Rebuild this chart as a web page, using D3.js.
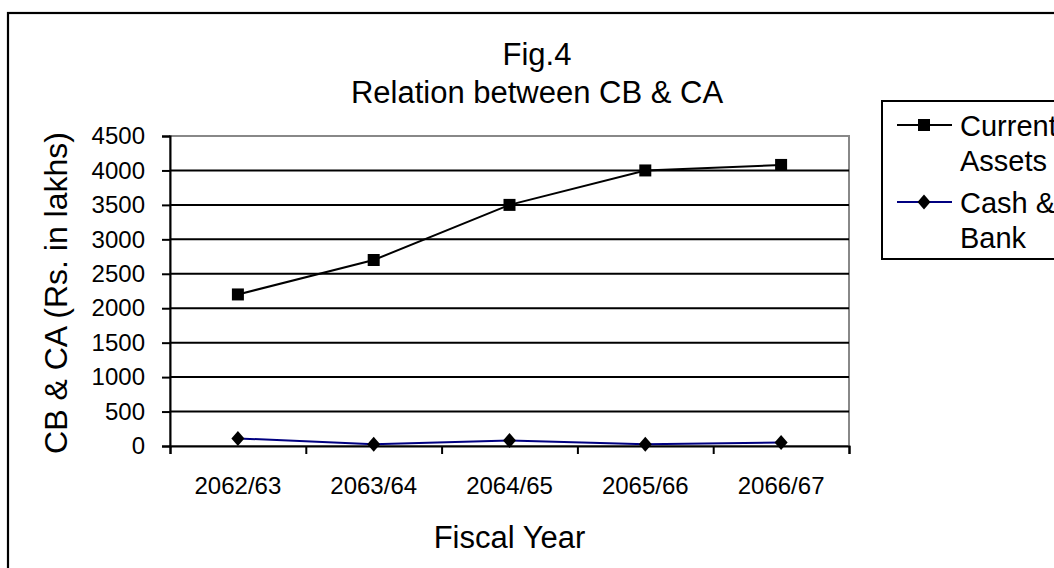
<!DOCTYPE html>
<html>
<head>
<meta charset="utf-8">
<script src="https://cdn.jsdelivr.net/npm/d3@7"></script>
<style>
  html, body { margin: 0; padding: 0; background: #fff; }
  svg { display: block; }
  text { font-family: "Liberation Sans", Arial, sans-serif; fill: #000; }
</style>
</head>
<body>
<svg id="chart" width="1054" height="568"></svg>
<script>
// Fiscal years on the horizontal axis
const categories = ["2062/63", "2063/64", "2064/65", "2065/66", "2066/67"];
// Rs. in lakhs
const currentAssets = [2200, 2700, 3500, 4000, 4080];
const cashBank = [110, 25, 80, 25, 50];
const yTicks = [0, 500, 1000, 1500, 2000, 2500, 3000, 3500, 4000, 4500];
const seriesNames = [["Current", "Assets"], ["Cash &", "Bank"]];

const svg = d3.select("#chart");
const W = 1054, H = 568;
const plot = { left: 170, right: 849, top: 136, bottom: 446 };
const FONT = "Liberation Sans, Arial, sans-serif";

// outer chart frame
svg.append("rect")
  .attr("x", 8).attr("y", 13)
  .attr("width", W + 20).attr("height", H + 20)
  .attr("fill", "#fff").attr("stroke", "#000").attr("stroke-width", 2.2);

const x = d3.scaleBand().domain(categories).range([plot.left, plot.right]);
const xEdge = d3.scaleLinear().domain([0, categories.length]).range([plot.left, plot.right]);
const y = d3.scaleLinear().domain([0, 4500]).range([plot.bottom, plot.top]);
const cx = d => x(d) + x.bandwidth() / 2;

// plot area border (grey)
svg.append("rect")
  .attr("x", plot.left).attr("y", plot.top)
  .attr("width", plot.right - plot.left).attr("height", plot.bottom - plot.top)
  .attr("fill", "#fff").attr("stroke", "#888").attr("stroke-width", 2);

// horizontal gridlines
svg.append("g")
  .selectAll("line")
  .data(yTicks.filter(v => v > 0 && v < 4500))
  .join("line")
  .attr("x1", plot.left).attr("x2", plot.right)
  .attr("y1", d => y(d)).attr("y2", d => y(d))
  .attr("stroke", "#000").attr("stroke-width", 2);

// y axis
const yAxis = svg.append("g")
  .attr("transform", `translate(${plot.left},0)`)
  .call(d3.axisLeft(y).tickValues(yTicks).tickSize(8).tickPadding(17).tickFormat(d3.format("d")));
yAxis.select(".domain").attr("stroke", "#000").attr("stroke-width", 2);
yAxis.selectAll(".tick line").attr("stroke", "#000").attr("stroke-width", 2);
yAxis.selectAll(".tick text")
  .attr("font-size", 24).attr("font-family", FONT).attr("fill", "#000");

// x axis: tick marks on category boundaries
const xTicks = svg.append("g")
  .attr("transform", `translate(0,${plot.bottom})`)
  .call(d3.axisBottom(xEdge).tickValues(d3.range(categories.length + 1)).tickSize(8).tickFormat(""));
xTicks.select(".domain").attr("stroke", "#000").attr("stroke-width", 2);
xTicks.selectAll(".tick line").attr("stroke", "#000").attr("stroke-width", 2);

// x category labels
const xLabels = svg.append("g")
  .attr("transform", `translate(0,${plot.bottom})`)
  .call(d3.axisBottom(x).tickSize(0).tickPadding(31));
xLabels.select(".domain").remove();
xLabels.selectAll(".tick text")
  .attr("font-size", 24).attr("font-family", FONT).attr("fill", "#000");

// series lines
const line = d3.line().x(d => cx(d.c)).y(d => y(d.v));
const caData = categories.map((c, i) => ({ c, v: currentAssets[i] }));
const cbData = categories.map((c, i) => ({ c, v: cashBank[i] }));

svg.append("path").datum(caData)
  .attr("d", line).attr("fill", "none").attr("stroke", "#000").attr("stroke-width", 2);
svg.append("path").datum(cbData)
  .attr("d", line).attr("fill", "none").attr("stroke", "#000080").attr("stroke-width", 2);

// markers: filled square and a near-square rhombus
const square = d3.symbol().type(d3.symbolSquare).size(144);
const rhombus = {
  draw(ctx) {
    ctx.moveTo(0, -7.5); ctx.lineTo(6.5, 0); ctx.lineTo(0, 7.5); ctx.lineTo(-6.5, 0); ctx.closePath();
  }
};
const diamond = d3.symbol().type(rhombus);

svg.append("g").selectAll("path")
  .data(caData).join("path")
  .attr("transform", d => `translate(${cx(d.c)},${y(d.v)})`)
  .attr("d", square).attr("fill", "#000");
svg.append("g").selectAll("path")
  .data(cbData).join("path")
  .attr("transform", d => `translate(${cx(d.c)},${y(d.v)})`)
  .attr("d", diamond).attr("fill", "#000");

// titles
svg.append("text")
  .attr("x", 537).attr("y", 65).attr("text-anchor", "middle")
  .attr("font-size", 31).text("Fig.4");
svg.append("text")
  .attr("x", 537).attr("y", 103).attr("text-anchor", "middle")
  .attr("font-size", 31).text("Relation between CB & CA");

svg.append("text")
  .attr("x", (plot.left + plot.right) / 2).attr("y", 548).attr("text-anchor", "middle")
  .attr("font-size", 31).text("Fiscal Year");

svg.append("text")
  .attr("transform", `translate(67,${(plot.top + plot.bottom) / 2 + 2}) rotate(-90)`)
  .attr("text-anchor", "middle")
  .attr("font-size", 32).text("CB & CA (Rs. in lakhs)");

// legend (its right side runs past the frame edge)
const legend = svg.append("g");
legend.append("rect")
  .attr("x", 882).attr("y", 101).attr("width", 200).attr("height", 158)
  .attr("fill", "#fff").attr("stroke", "#000").attr("stroke-width", 2);

const legendItems = [
  { name: seriesNames[0], color: "#000", sym: square, yc: 125 },
  { name: seriesNames[1], color: "#000080", sym: diamond, yc: 202 }
];
legendItems.forEach(it => {
  legend.append("line")
    .attr("x1", 897).attr("x2", 952).attr("y1", it.yc).attr("y2", it.yc)
    .attr("stroke", it.color).attr("stroke-width", 2);
  legend.append("path")
    .attr("transform", `translate(924,${it.yc})`)
    .attr("d", it.sym).attr("fill", "#000");
  const t = legend.append("text").attr("x", 960).attr("y", it.yc + 11).attr("font-size", 29);
  t.append("tspan").attr("x", 960).text(it.name[0]);
  t.append("tspan").attr("x", 960).attr("dy", 35).text(it.name[1]);
});
</script>
</body>
</html>
